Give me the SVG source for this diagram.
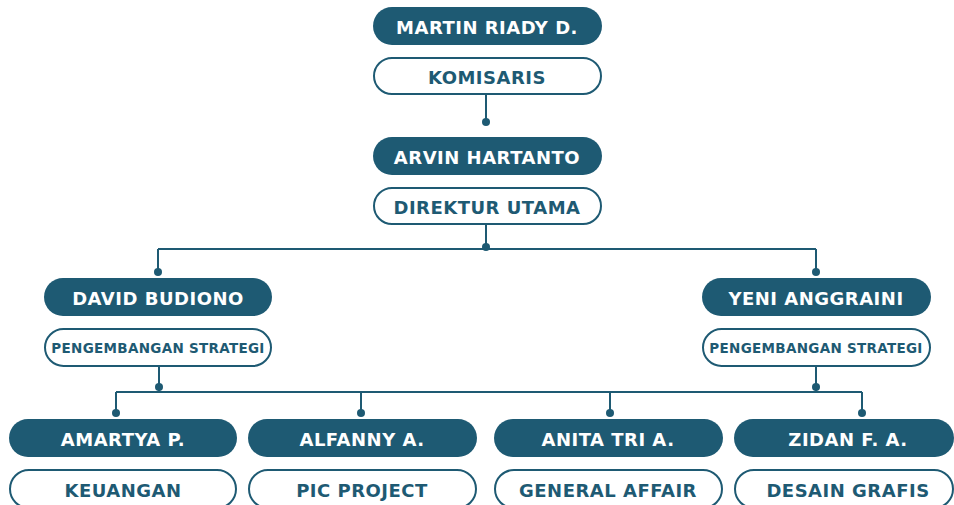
<svg xmlns="http://www.w3.org/2000/svg" width="954" height="505" viewBox="0 0 954 505">
<style>
.f{fill:#1e5a73}
.o{fill:#fff;stroke:#1e5a73;stroke-width:2}
.tw{fill:#fff;font-family:"DejaVu Sans",sans-serif;font-weight:bold;font-size:18px;letter-spacing:0.5px;text-anchor:middle;dominant-baseline:central}
.tb{fill:#1e5a73;font-family:"DejaVu Sans",sans-serif;font-weight:bold;font-size:18px;letter-spacing:0.5px;text-anchor:middle;dominant-baseline:central}
.ts{font-size:13.5px;letter-spacing:0.3px}
.c{fill:none;stroke:#1e5a73;stroke-width:2}
.d{fill:#1e5a73}
</style>
<rect width="954" height="505" fill="#fff"/>
<g id="connectors">
<path class="c" d="M486 94V122M486 224V249M158 249H816M158 249V272M816 249V272M159 366V392M816 366V392M116 392H862M116 392V413M361 392V413M610 392V413M862 392V413"/>
<circle class="d" cx="486" cy="122" r="4"/>
<circle class="d" cx="486" cy="247" r="4"/>
<circle class="d" cx="158" cy="272" r="4"/>
<circle class="d" cx="816" cy="272" r="4"/>
<circle class="d" cx="159" cy="387" r="4"/>
<circle class="d" cx="816" cy="387" r="4"/>
<circle class="d" cx="116" cy="413" r="4"/>
<circle class="d" cx="361" cy="413" r="4"/>
<circle class="d" cx="610" cy="413" r="4"/>
<circle class="d" cx="862" cy="413" r="4"/>
</g>
<g id="martin">
<rect class="f" x="373" y="7" width="229" height="38" rx="19"/>
<text class="tw" x="487" y="27">MARTIN RIADY D.</text>
<rect class="o" x="374" y="58" width="227" height="36" rx="18"/>
<text class="tb" x="487" y="77">KOMISARIS</text>
</g>
<g id="arvin">
<rect class="f" x="373" y="137" width="229" height="38" rx="19"/>
<text class="tw" x="487" y="157">ARVIN HARTANTO</text>
<rect class="o" x="374" y="188" width="227" height="36" rx="18"/>
<text class="tb" x="487" y="207">DIREKTUR UTAMA</text>
</g>
<g id="david">
<rect class="f" x="44" y="278" width="228" height="38" rx="19"/>
<text class="tw" x="158" y="298">DAVID BUDIONO</text>
<rect class="o" x="45" y="329" width="226" height="37" rx="18.5"/>
<text class="tb ts" x="158" y="348">PENGEMBANGAN STRATEGI</text>
</g>
<g id="yeni">
<rect class="f" x="702" y="278" width="229" height="38" rx="19"/>
<text class="tw" x="816" y="298">YENI ANGGRAINI</text>
<rect class="o" x="703" y="329" width="227" height="37" rx="18.5"/>
<text class="tb ts" x="816" y="348">PENGEMBANGAN STRATEGI</text>
</g>
<g id="amartya">
<rect class="f" x="9" y="419" width="228" height="38" rx="19"/>
<text class="tw" x="123" y="439">AMARTYA P.</text>
<rect class="o" x="10" y="470" width="226" height="38" rx="19"/>
<text class="tb" x="123" y="490">KEUANGAN</text>
</g>
<g id="alfanny">
<rect class="f" x="248" y="419" width="229" height="38" rx="19"/>
<text class="tw" x="362" y="439">ALFANNY A.</text>
<rect class="o" x="249" y="470" width="227" height="38" rx="19"/>
<text class="tb" x="362" y="490">PIC PROJECT</text>
</g>
<g id="anita">
<rect class="f" x="494" y="419" width="229" height="38" rx="19"/>
<text class="tw" x="608" y="439">ANITA TRI A.</text>
<rect class="o" x="495" y="470" width="227" height="38" rx="19"/>
<text class="tb" x="608" y="490">GENERAL AFFAIR</text>
</g>
<g id="zidan">
<rect class="f" x="734" y="419" width="220" height="38" rx="19"/>
<text class="tw" x="848" y="439">ZIDAN F. A.</text>
<rect class="o" x="735" y="470" width="218" height="38" rx="19"/>
<text class="tb" x="848" y="490">DESAIN GRAFIS</text>
</g>
</svg>
